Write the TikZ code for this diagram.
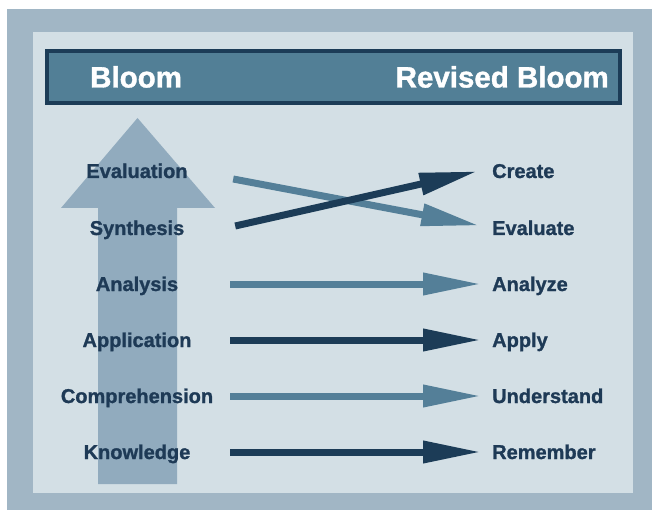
\documentclass[tikz,border=0pt]{standalone}
\usepackage{fontspec}
\setmainfont{Liberation Sans}[BoldFeatures={FakeBold=1.2}]
\usetikzlibrary{arrows.meta}

\definecolor{outerblue}{HTML}{A1B6C5}
\definecolor{panelblue}{HTML}{D3DFE5}
\definecolor{bigarrow}{HTML}{91ABBE}
\definecolor{barblue}{HTML}{527F96}
\definecolor{darkblue}{HTML}{1C3C57}
\definecolor{midblue}{HTML}{547F98}
\definecolor{textblue}{HTML}{1E3A56}

\begin{document}
\begin{tikzpicture}
[x=1pt,y=-1pt,
  leftlabel/.style={inner sep=0pt,minimum width=186pt,text height=14pt,
    text depth=0pt,font=\bfseries\fontsize{20}{22}\selectfont,text=textblue},%
  rightlabel/.style={leftlabel,minimum width=0pt,anchor=west},%
  headtext/.style={inner sep=0pt,text height=21pt,text depth=0pt,
    font=\bfseries\fontsize{29.5}{32}\selectfont,text=white},%
  darkarrow/.style={-{Triangle[length=58pt,width=21pt]},line width=7pt,darkblue},%
  midarrow/.style={darkarrow,midblue}]
\useasboundingbox (0,0) rectangle (652,510);
%% frames
\fill[outerblue] (7,9) rectangle (652,510);
\fill[panelblue] (33,32) rectangle (633,493);
\draw[line width=4pt,darkblue,fill=barblue] (47,51) rectangle (620,103);
\node (bloom) at (90,77) [headtext,anchor=west] {Bloom};
\node (revised) at (609,77) [headtext,anchor=east] {Revised Bloom};
%% big arrow
\fill[bigarrow] (98,484) -- (98,208) -- (61,208) -- (137.5,118)
  -- (215,208) -- (177,208) -- (177,484) -- cycle;
%% labels
\foreach \nodename/\y/\labeltext in {ev/171/Evaluation, sy/228/Synthesis,
  an/284/Analysis, ap/340/Application, co/396/Comprehension, kn/452/Knowledge}
{
  \node (\nodename) at (137,\y) [leftlabel] {\labeltext};
}
\foreach \nodename/\y/\labeltext in {cr/171/Create, evr/228/Evaluate,
  anr/284/Analyze, apr/340/Apply, und/396/Understand, rem/452/Remember}
{
  \node (\nodename) at (492,\y) [rightlabel] {\labeltext};
}
%% arrows
\draw[midarrow,shorten >=13pt] ([shift={(3,8)}]ev.east) -- (evr.west);
\draw[darkarrow,shorten >=15pt] ([shift={(5,-2)}]sy.east) -- ([yshift=3pt]cr.west);
\foreach \startnode/\endnode/\kind in {an/anr/midarrow, ap/apr/darkarrow,
  co/und/midarrow, kn/rem/darkarrow}
{
  \draw[\kind,shorten >=11pt] (\startnode.east) -- (\endnode.west);
}
\end{tikzpicture}
\end{document}
